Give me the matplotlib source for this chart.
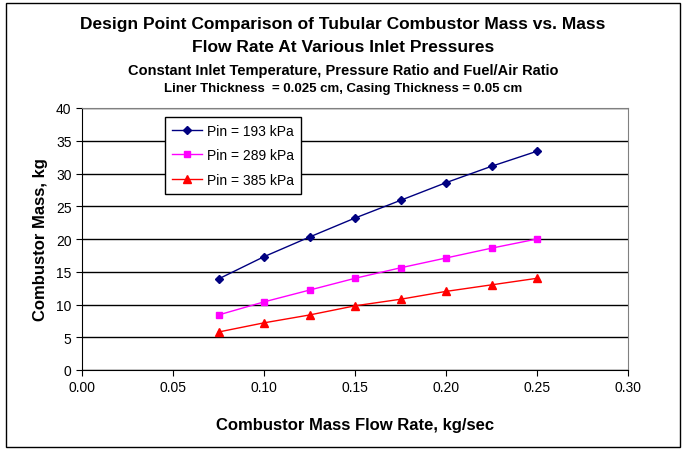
import matplotlib
matplotlib.use('Agg')
import matplotlib.pyplot as plt
from matplotlib.patches import Rectangle

flow = [0.075, 0.100, 0.125, 0.150, 0.175, 0.200, 0.225, 0.250]
mass_193 = [13.9, 17.3, 20.3, 23.2, 25.9, 28.6, 31.1, 33.4]
mass_289 = [8.4, 10.4, 12.2, 14.0, 15.6, 17.1, 18.6, 20.0]
mass_385 = [5.8, 7.2, 8.4, 9.8, 10.8, 12.0, 13.0, 14.0]
labels = ['Pin = 193 kPa', 'Pin = 289 kPa', 'Pin = 385 kPa']

plt.rcParams['font.family'] = ['Liberation Sans', 'DejaVu Sans']

fig = plt.figure(figsize=(6.86, 4.52), dpi=100)
# outer chart frame
fig.patches.append(Rectangle((6 / 686, 4 / 452), 674 / 686, 444 / 452,
                             transform=fig.transFigure, fill=False,
                             edgecolor='black', linewidth=1))

ax = fig.add_axes([82 / 686, 1 - 371 / 452, 546 / 686, 262 / 452])

ax.plot(flow, mass_193, color='#000080', marker='D', markersize=4.5, linewidth=1, label=labels[0])
ax.plot(flow, mass_289, color='#FF00FF', marker='s', markersize=5, linewidth=1, label=labels[1])
ax.plot(flow, mass_385, color='#FF0000', marker='^', markersize=6, linewidth=1, label=labels[2])

ax.set_xlim(0, 0.30)
ax.set_ylim(0, 40)
ax.set_xticks([0.00, 0.05, 0.10, 0.15, 0.20, 0.25, 0.30])
ax.set_xticklabels(['%.2f' % v for v in [0.00, 0.05, 0.10, 0.15, 0.20, 0.25, 0.30]])
ax.set_yticks(range(0, 41, 5))
ax.yaxis.grid(True, color='black', linewidth=1)
ax.set_axisbelow(True)
for side in ['top', 'right']:
    ax.spines[side].set_color('#808080')
for side in ['left', 'bottom']:
    ax.spines[side].set_color('black')
ax.tick_params(axis='both', labelsize=10, direction='out', length=4)

ax.set_xlabel('Combustor Mass Flow Rate, kg/sec', fontsize=12, fontweight='bold', labelpad=16)
ax.set_ylabel('Combustor Mass, kg', fontsize=12, fontweight='bold', labelpad=6)

fig.text(0.5, 1 - 25 / 452, 'Design Point Comparison of Tubular Combustor Mass vs. Mass',
         ha='center', va='center', fontsize=12.5, fontweight='bold')
fig.text(0.5, 1 - 48 / 452, 'Flow Rate At Various Inlet Pressures',
         ha='center', va='center', fontsize=12.5, fontweight='bold')
fig.text(0.5, 1 - 71 / 452, 'Constant Inlet Temperature, Pressure Ratio and Fuel/Air Ratio',
         ha='center', va='center', fontsize=10.5, fontweight='bold')
fig.text(0.5, 1 - 89 / 452, 'Liner Thickness  = 0.025 cm, Casing Thickness = 0.05 cm',
         ha='center', va='center', fontsize=9.5, fontweight='bold')

leg = ax.legend(loc='upper left', bbox_to_anchor=(0.152, 0.966), borderaxespad=0,
                fontsize=10, fancybox=False, framealpha=1, edgecolor='black',
                handlelength=2.2, handletextpad=0.3, borderpad=0.5, labelspacing=0.75)
leg.get_frame().set_linewidth(1)

fig.savefig('out.png', dpi=100)
